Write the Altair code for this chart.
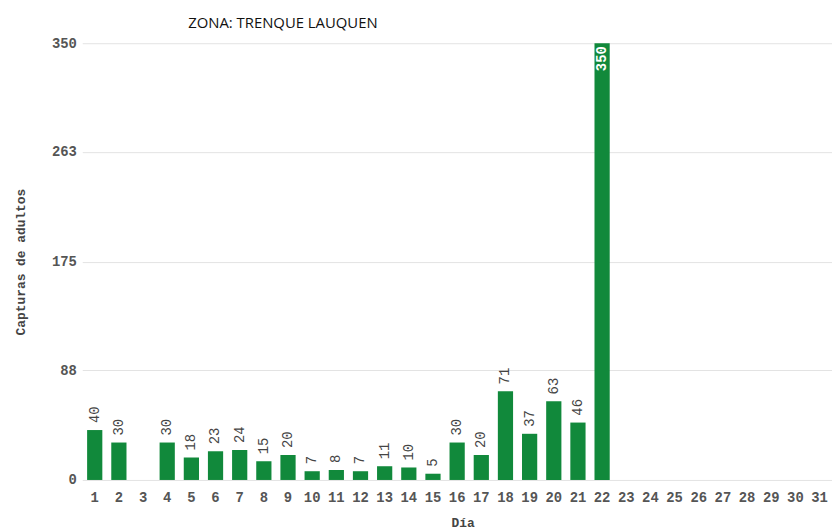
import altair as alt
import pandas as pd

days = [str(d) for d in range(1, 32)]
values = [40, 30, 0, 30, 18, 23, 24, 15, 20, 7, 8, 7, 11, 10, 5, 30, 20, 71, 37, 63, 46, 350,
          0, 0, 0, 0, 0, 0, 0, 0, 0]
y_ticks = [0, 88, 175, 263, 350]

df = pd.DataFrame({"dia": days, "capturas": values})

GREEN = "#11893b"
FONT = "Liberation Mono"

x_enc = alt.X("dia:O", sort=days,
              scale=alt.Scale(domain=days, paddingInner=0.37, paddingOuter=0.2),
              axis=alt.Axis(title="Día", labelAngle=0, labelFont=FONT, labelFontSize=14,
                            labelFontWeight="bold", labelColor="#555555", labelPadding=11,
                            ticks=False, domain=False, titleFont=FONT, titleFontSize=13,
                            titleFontWeight="bold", titleColor="#444444", titlePadding=12,
                            titleX=384))
y_enc = alt.Y("capturas:Q",
              scale=alt.Scale(domain=[0, 350], nice=False),
              axis=alt.Axis(title="Capturas de adultos", values=y_ticks, labelFont=FONT,
                            labelFontSize=14, labelFontWeight="bold", labelColor="#555555",
                            labelPadding=6, ticks=False, domain=False, gridColor="#e3e3e3",
                            titleFont=FONT, titleFontSize=13, titleFontWeight="bold",
                            titleColor="#444444", titlePadding=24))

base = alt.Chart(df)

bars = base.mark_bar(color=GREEN).encode(x=x_enc, y=y_enc)

labels_out = base.transform_filter(
    (alt.datum.capturas > 0) & (alt.datum.capturas < 300)
).mark_text(angle=270, align="left", baseline="middle", dx=7, font=FONT, fontSize=14,
            color="#444444").encode(x=alt.X("dia:O", sort=days), y="capturas:Q",
                                     text="capturas:Q")

labels_in = base.transform_filter(
    alt.datum.capturas >= 300
).mark_text(angle=270, align="right", baseline="middle", dx=-3, font=FONT, fontSize=14,
            fontWeight="bold", color="white").encode(x=alt.X("dia:O", sort=days),
                                                      y="capturas:Q", text="capturas:Q")

chart = (bars + labels_out + labels_in).properties(
    width=757, height=441,
    autosize=alt.AutoSizeParams(type="none"),
    padding={"left": 75, "top": 33, "right": 0, "bottom": 50},
    title=alt.TitleParams("ZONA: TRENQUE LAUQUEN", anchor="start", frame="group",
                          dx=107, offset=5, font="Open Sans", fontSize=15,
                          fontWeight="normal", color="#111111"),
).configure_view(stroke=None)

chart.save("out.html", embed_options={"renderer": "svg", "actions": False})
